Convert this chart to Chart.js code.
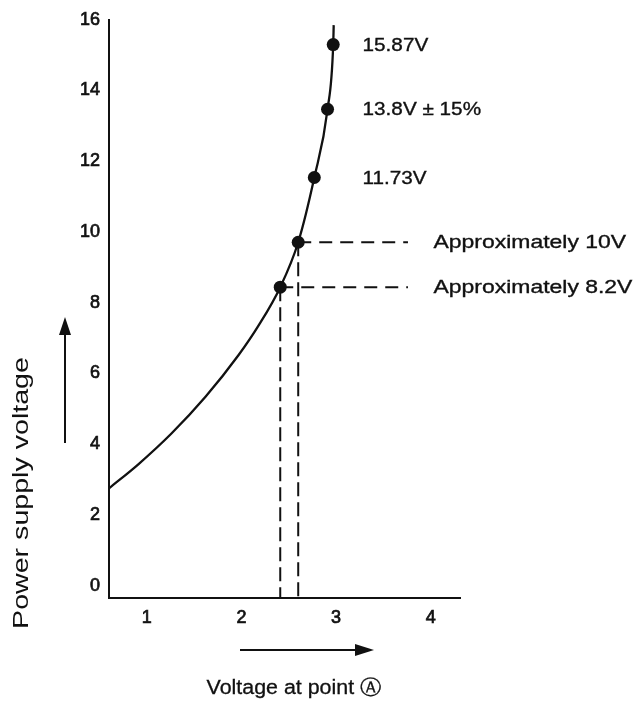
<!DOCTYPE html>
<html><head><meta charset="utf-8">
<script src="https://cdn.jsdelivr.net/npm/chart.js@4.4.1/dist/chart.umd.min.js"></script>
<style>html,body{margin:0;padding:0;background:#fff;} canvas{display:block;}</style>
</head><body>
<canvas id="c" width="637" height="705"></canvas>
<script>
// ---- data ----
const xTicks = [1, 2, 3, 4];
const yTicks = [0, 2, 4, 6, 8, 10, 12, 14, 16];
const curveX = [0.60, 0.91, 1.26, 1.62, 1.97, 2.18, 2.41, 2.60, 2.77, 2.91, 2.97, 2.975];
const curveY = [2.75, 3.43, 4.30, 5.34, 6.52, 7.35, 8.44, 9.71, 11.54, 13.47, 15.30, 15.85];
const pointX = [2.41, 2.60, 2.77, 2.91, 2.97];
const pointY = [8.44, 9.71, 11.54, 13.47, 15.30];
const pointLabels = ['Approximately 8.2V', 'Approximately 10V', '11.73V', '13.8V \u00B1 15%', '15.87V'];
const guidedPoints = [0, 1];
const guideEndX = 3.76;
const xTitle = 'Voltage at point \u24B6';
const yTitle = 'Power supply voltage';
const xRange = [0.6, 4.31];
const yRange = [-0.35, 16];

const FONT = '"Liberation Sans", Arial, Helvetica, sans-serif';
const INK = '#111';

const datasets = [];
datasets.push({
  label: 'points',
  data: pointX.map((x, i) => ({x, y: pointY[i]})),
  pointRadius: 6.5, pointHoverRadius: 6.5,
  backgroundColor: INK, borderColor: INK, borderWidth: 0,
  showLine: false
});
datasets.push({
  label: 'curve',
  data: curveX.map((x, i) => ({x, y: curveY[i]})),
  showLine: true, borderColor: INK, borderWidth: 2.3,
  pointRadius: 0, cubicInterpolationMode: 'monotone', fill: false
});
guidedPoints.forEach(i => {
  datasets.push({
    label: 'h' + i,
    data: [{x: pointX[i], y: pointY[i]}, {x: guideEndX, y: pointY[i]}],
    showLine: true, borderColor: INK, borderWidth: 2, borderDash: [13, 8],
    pointRadius: 0, fill: false
  });
  datasets.push({
    label: 'v' + i,
    data: [{x: pointX[i], y: pointY[i]}, {x: pointX[i], y: yRange[0]}],
    showLine: true, borderColor: INK, borderWidth: 2, borderDash: [14, 6],
    pointRadius: 0, fill: false
  });
});

function wideText(ctx, text, x, y, scale, align, stroke) {
  ctx.save();
  ctx.translate(x, y);
  ctx.scale(scale, 1);
  ctx.textAlign = align;
  ctx.fillText(text, 0, 0);
  if (stroke) { ctx.lineWidth = stroke; ctx.strokeText(text, 0, 0); }
  ctx.restore();
}

const annot = {
  id: 'annot',
  afterDraw(chart) {
    const {ctx} = chart;
    const x = chart.scales.x, y = chart.scales.y;
    ctx.save();
    ctx.fillStyle = INK;
    ctx.strokeStyle = INK;
    ctx.font = '18.5px ' + FONT;
    ctx.textBaseline = 'middle';
    pointLabels.forEach((t, i) => {
      const approx = i < 2;
      const lx = approx ? 4.03 : 3.28;
      wideText(ctx, t, x.getPixelForValue(lx), y.getPixelForValue(pointY[i]) + 1,
               approx ? 1.24 : 1.12, 'left', 0.35);
    });
    ctx.font = '20px ' + FONT;
    wideText(ctx, xTitle, 294, 688, 1.07, 'center', 0.3);
    ctx.save();
    ctx.translate(22, 493);
    ctx.rotate(-Math.PI / 2);
    ctx.font = '22px ' + FONT;
    wideText(ctx, yTitle, 0, 0, 1.3, 'center', 0);
    ctx.restore();
    // arrows
    ctx.lineWidth = 2;
    ctx.beginPath(); ctx.moveTo(65, 443); ctx.lineTo(65, 330); ctx.stroke();
    ctx.beginPath(); ctx.moveTo(65, 317); ctx.lineTo(59, 335); ctx.lineTo(71, 335); ctx.closePath(); ctx.fill();
    ctx.beginPath(); ctx.moveTo(240, 650); ctx.lineTo(360, 650); ctx.stroke();
    ctx.beginPath(); ctx.moveTo(374, 650); ctx.lineTo(355, 644); ctx.lineTo(355, 656); ctx.closePath(); ctx.fill();
    ctx.restore();
  }
};

const tickOpts = {color: INK, font: {family: FONT, size: 18}, padding: 9,
  textStrokeColor: INK, textStrokeWidth: 0.7, callback: v => String(v)};

new Chart(document.getElementById('c'), {
  type: 'scatter',
  data: {datasets},
  options: {
    responsive: false,
    animation: false,
    events: [],
    layout: {padding: {top: 18, right: 177, bottom: 0, left: 0}},
    plugins: {legend: {display: false}, tooltip: {enabled: false}},
    scales: {
      x: {
        type: 'linear', min: xRange[0], max: xRange[1],
        afterBuildTicks: s => { s.ticks = xTicks.map(v => ({value: v})); },
        afterFit: s => { s.height = 107; },
        grid: {display: false, drawTicks: false},
        border: {display: true, color: INK, width: 2},
        ticks: tickOpts
      },
      y: {
        type: 'linear', min: yRange[0], max: yRange[1],
        afterBuildTicks: s => { s.ticks = yTicks.map(v => ({value: v})); },
        afterFit: s => { s.width = 109; },
        grid: {display: false, drawTicks: false},
        border: {display: true, color: INK, width: 2},
        ticks: tickOpts
      }
    }
  },
  plugins: [annot]
});
</script>
</body></html>
